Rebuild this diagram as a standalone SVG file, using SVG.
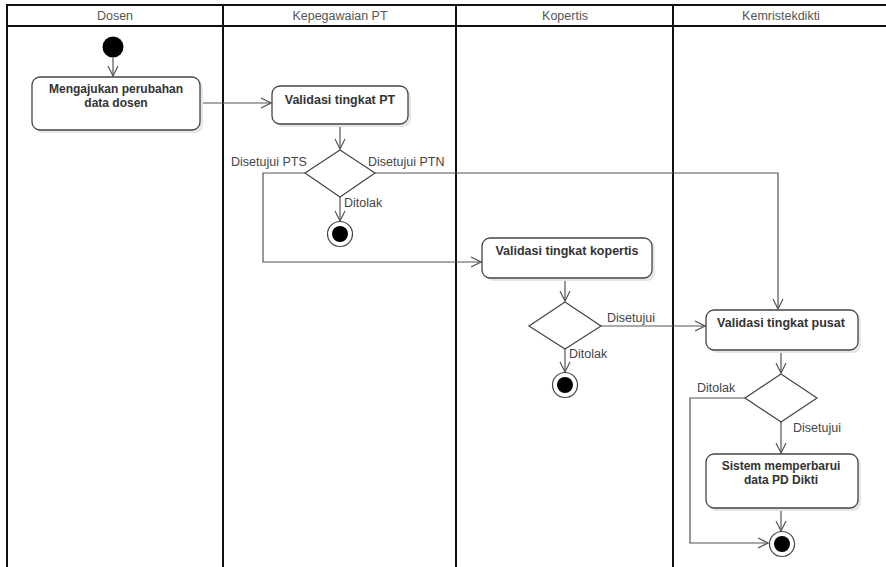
<svg xmlns="http://www.w3.org/2000/svg" width="886" height="567" viewBox="0 0 886 567">
<style>
.lane{stroke:#111;stroke-width:2;fill:none}
.hdr{font-family:"Liberation Sans",Arial,sans-serif;font-size:12.5px;fill:#555;text-anchor:middle}
.box{fill:#fff;stroke:#444;stroke-width:1.3}
.shadow{fill:#e6e6e6;stroke:none}
.nt{font-family:"Liberation Sans",Arial,sans-serif;font-size:12.5px;font-weight:bold;fill:#333;text-anchor:middle}
.nt2{font-family:"Liberation Sans",Arial,sans-serif;font-size:12px;font-weight:bold;fill:#333;text-anchor:middle}
.lbl{font-family:"Liberation Sans",Arial,sans-serif;font-size:12.5px;fill:#444}
.edge{fill:none;stroke:#555;stroke-width:1.2}
.dia{fill:#fff;stroke:#444;stroke-width:1.2}
</style>
<defs>
<marker id="arr" markerWidth="12" markerHeight="12" refX="11" refY="6" orient="auto" markerUnits="userSpaceOnUse">
<path d="M1,1 L11,6 L1,11" fill="none" stroke="#555" stroke-width="1.2"/>
</marker>
</defs>
<rect x="0" y="0" width="886" height="567" fill="#fff"/>
<g id="swimlanes">
<line class="lane" x1="7" y1="5" x2="886" y2="5"/>
<line class="lane" x1="7" y1="26" x2="886" y2="26"/>
<line class="lane" x1="7" y1="4" x2="7" y2="567"/>
<line class="lane" x1="223" y1="5" x2="223" y2="567"/>
<line class="lane" x1="456" y1="5" x2="456" y2="567"/>
<line class="lane" x1="673" y1="5" x2="673" y2="567"/>
<text class="hdr" x="115" y="20">Dosen</text>
<text class="hdr" x="340" y="20">Kepegawaian PT</text>
<text class="hdr" x="565" y="20">Kopertis</text>
<text class="hdr" x="781" y="20">Kemristekdikti</text>
</g>
<g id="connectors">
<path class="edge" d="M113,58 L113,76" marker-end="url(#arr)"/>
<path class="edge" d="M200,103 L271,103" marker-end="url(#arr)"/>
<path class="edge" d="M340,124 L340,149" marker-end="url(#arr)"/>
<path class="edge" d="M340,197 L340,221" marker-end="url(#arr)"/>
<path class="edge" d="M305,173 L263,173 L263,262 L481,262" marker-end="url(#arr)"/>
<path class="edge" d="M375,173 L778,173 L778,309" marker-end="url(#arr)"/>
<path class="edge" d="M565,278 L565,301" marker-end="url(#arr)"/>
<path class="edge" d="M601,326 L705,326" marker-end="url(#arr)"/>
<path class="edge" d="M565,349 L565,372" marker-end="url(#arr)"/>
<path class="edge" d="M781,350 L781,373" marker-end="url(#arr)"/>
<path class="edge" d="M781,422 L781,453" marker-end="url(#arr)"/>
<path class="edge" d="M745,398 L690,398 L690,543 L768,543" marker-end="url(#arr)"/>
<path class="edge" d="M781,508 L781,531" marker-end="url(#arr)"/>
<text class="lbl" x="231" y="166">Disetujui PTS</text>
<text class="lbl" x="368" y="166">Disetujui PTN</text>
<text class="lbl" x="344" y="207">Ditolak</text>
<text class="lbl" x="607" y="322">Disetujui</text>
<text class="lbl" x="569" y="358">Ditolak</text>
<text class="lbl" x="697" y="392">Ditolak</text>
<text class="lbl" x="793" y="432">Disetujui</text>
</g>
<g id="start">
<circle cx="113" cy="47" r="10.5" fill="#000"/>
</g>
<g id="mengajukan">
<rect class="shadow" x="35" y="80" width="168" height="53" rx="8"/>
<rect class="box" x="32" y="77" width="168" height="53" rx="8"/>
<text class="nt2" x="116" y="93">Mengajukan perubahan</text>
<text class="nt2" x="116" y="107">data dosen</text>
</g>
<g id="validasi-pt">
<rect class="shadow" x="275" y="89" width="136" height="38" rx="8"/>
<rect class="box" x="272" y="86" width="136" height="38" rx="8"/>
<text class="nt" x="340" y="104">Validasi tingkat PT</text>
</g>
<g id="decision-pt">
<polygon class="dia" points="340,150 375,173 340,197 305,173"/>
</g>
<g id="end-pt">
<circle cx="340" cy="234" r="12.5" fill="#fff" stroke="#444" stroke-width="1.2"/>
<circle cx="340" cy="234" r="8" fill="#000"/>
</g>
<g id="validasi-kopertis">
<rect class="shadow" x="485" y="241" width="170" height="40" rx="8"/>
<rect class="box" x="482" y="238" width="170" height="40" rx="8"/>
<text class="nt" x="567" y="255">Validasi tingkat kopertis</text>
</g>
<g id="decision-kopertis">
<polygon class="dia" points="565,302 601,326 565,349 529,326"/>
</g>
<g id="end-kopertis">
<circle cx="565" cy="385" r="12.5" fill="#fff" stroke="#444" stroke-width="1.2"/>
<circle cx="565" cy="385" r="8" fill="#000"/>
</g>
<g id="validasi-pusat">
<rect class="shadow" x="709" y="313" width="152" height="40" rx="8"/>
<rect class="box" x="706" y="310" width="152" height="40" rx="8"/>
<text class="nt" x="781" y="327">Validasi tingkat pusat</text>
</g>
<g id="decision-pusat">
<polygon class="dia" points="781,374 817,398 781,422 745,398"/>
</g>
<g id="sistem">
<rect class="shadow" x="709" y="457" width="152" height="54" rx="8"/>
<rect class="box" x="706" y="454" width="152" height="54" rx="8"/>
<text class="nt2" x="781" y="470">Sistem memperbarui</text>
<text class="nt2" x="781" y="484">data PD Dikti</text>
</g>
<g id="end-pusat">
<circle cx="782" cy="544" r="12.5" fill="#fff" stroke="#444" stroke-width="1.2"/>
<circle cx="782" cy="544" r="8" fill="#000"/>
</g>
</svg>
